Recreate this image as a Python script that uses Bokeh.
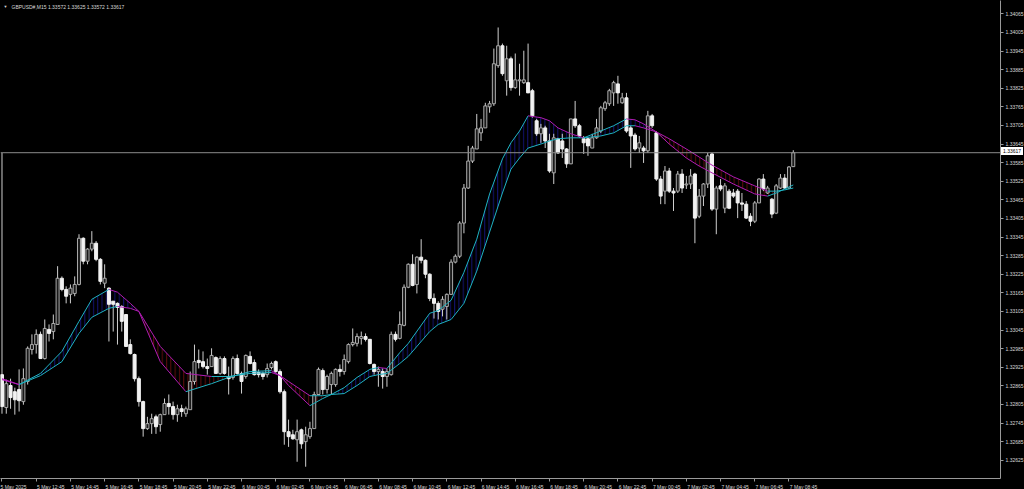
from bokeh.plotting import figure
from bokeh.models import Range1d, FixedTicker, Span, Label, NumeralTickFormatter
from bokeh.embed import file_html
from bokeh.resources import INLINE

symbol_title = "GBPUSD#,M15  1.33572 1.33625 1.33572 1.33617"
bid_price = 1.33617

time_labels = ["5 May 2025", "5 May 12:45", "5 May 14:45", "5 May 16:45", "5 May 18:45",
               "5 May 20:45", "5 May 22:45", "6 May 00:45", "6 May 02:45", "6 May 04:45",
               "6 May 06:45", "6 May 08:45", "6 May 10:45", "6 May 12:45", "6 May 14:45",
               "6 May 16:45", "6 May 18:45", "6 May 20:45", "6 May 22:45", "7 May 00:45",
               "7 May 02:45", "7 May 04:45", "7 May 06:45", "7 May 08:45"]
time_label_bars = [0, 8, 16, 24, 32, 40, 48, 56, 64, 72, 80, 88, 96, 104, 112, 120,
                   128, 136, 144, 152, 160, 168, 176, 184]

y_ticks = [1.34065, 1.34005, 1.33945, 1.33885, 1.33825, 1.33765, 1.33705, 1.33645,
           1.33585, 1.33525, 1.33465, 1.33405, 1.33345, 1.33285, 1.33225, 1.33165,
           1.33105, 1.33045, 1.32985, 1.32925, 1.32865, 1.32805, 1.32745, 1.32685,
           1.32625, 1.32565]

opens = [
    1.32901, 1.32795, 1.32866, 1.32846, 1.32853, 1.32814, 1.32879, 1.32982, 1.32998, 1.33031,
    1.32953, 1.33047, 1.33040, 1.33063, 1.33212, 1.33176, 1.33160, 1.33163, 1.33192, 1.33341,
    1.33267, 1.33306, 1.33325, 1.33273, 1.33196, 1.33180, 1.33138, 1.33131, 1.33121, 1.33095,
    1.32998, 1.32966, 1.32888, 1.32814, 1.32727, 1.32743, 1.32765, 1.32740, 1.32772, 1.32808,
    1.32798, 1.32772, 1.32791, 1.32775, 1.32788, 1.32879, 1.32947, 1.32943, 1.32927, 1.32927,
    1.32956, 1.32905, 1.32953, 1.32895, 1.32892, 1.32953, 1.32905, 1.32895, 1.32960, 1.32940,
    1.32908, 1.32905, 1.32901, 1.32924, 1.32943, 1.32911, 1.32846, 1.32717, 1.32707, 1.32691,
    1.32723, 1.32685, 1.32701, 1.32727, 1.32837, 1.32914, 1.32853, 1.32869, 1.32869, 1.32918,
    1.32911, 1.32943, 1.32998, 1.33002, 1.33018, 1.33024, 1.33015, 1.32934, 1.32911, 1.32911,
    1.32895, 1.32901, 1.33031, 1.33018, 1.33060, 1.33183, 1.33257, 1.33192, 1.33280, 1.33270,
    1.33225, 1.33147, 1.33131, 1.33112, 1.33121, 1.33160, 1.33264, 1.33283, 1.33390, 1.33503,
    1.33590, 1.33629, 1.33681, 1.33697, 1.33765, 1.33775, 1.33898, 1.33962, 1.33849, 1.33920,
    1.33827, 1.33849, 1.33843, 1.33843, 1.33817, 1.33720, 1.33678, 1.33697, 1.33655, 1.33552,
    1.33662, 1.33655, 1.33629, 1.33581, 1.33726, 1.33704, 1.33662, 1.33662, 1.33632, 1.33665,
    1.33687, 1.33759, 1.33775, 1.33810, 1.33839, 1.33778, 1.33794, 1.33697, 1.33674, 1.33632,
    1.33632, 1.33623, 1.33736, 1.33681, 1.33532, 1.33493, 1.33558, 1.33493, 1.33493, 1.33548,
    1.33513, 1.33516, 1.33548, 1.33412, 1.33477, 1.33516, 1.33613, 1.33435, 1.33510, 1.33438,
    1.33493, 1.33487, 1.33493, 1.33455, 1.33451, 1.33412, 1.33396, 1.33455, 1.33532, 1.33487,
    1.33467, 1.33422, 1.33503, 1.33535, 1.33503, 1.33572]

highs = [
    1.33616, 1.32885, 1.32888, 1.32859, 1.32918, 1.32921, 1.32992, 1.33031, 1.33047, 1.33040,
    1.33079, 1.33063, 1.33095, 1.33251, 1.33218, 1.33186, 1.33192, 1.33218, 1.33354, 1.33344,
    1.33309, 1.33364, 1.33332, 1.33277, 1.33257, 1.33183, 1.33138, 1.33134, 1.33125, 1.33095,
    1.33015, 1.32969, 1.32895, 1.32817, 1.32765, 1.32775, 1.32772, 1.32775, 1.32824, 1.32837,
    1.32814, 1.32804, 1.32804, 1.32798, 1.32911, 1.32998, 1.32982, 1.32976, 1.32953, 1.32986,
    1.32960, 1.32960, 1.32960, 1.32927, 1.32960, 1.32966, 1.32911, 1.32966, 1.32976, 1.32950,
    1.32918, 1.32911, 1.32937, 1.32943, 1.32947, 1.32918, 1.32853, 1.32756, 1.32723, 1.32756,
    1.32727, 1.32733, 1.32749, 1.32846, 1.32924, 1.32921, 1.32901, 1.32911, 1.32921, 1.32934,
    1.32966, 1.33002, 1.33050, 1.33034, 1.33040, 1.33034, 1.33015, 1.32937, 1.32927, 1.32921,
    1.32921, 1.33040, 1.33040, 1.33105, 1.33192, 1.33260, 1.33289, 1.33283, 1.33338, 1.33273,
    1.33228, 1.33163, 1.33138, 1.33154, 1.33163, 1.33273, 1.33289, 1.33396, 1.33516, 1.33639,
    1.33639, 1.33742, 1.33726, 1.33778, 1.33784, 1.33953, 1.34021, 1.33969, 1.33962, 1.33927,
    1.33937, 1.33904, 1.33946, 1.33969, 1.33823, 1.33726, 1.33710, 1.33704, 1.33678, 1.33678,
    1.33665, 1.33678, 1.33632, 1.33726, 1.33784, 1.33710, 1.33671, 1.33665, 1.33678, 1.33726,
    1.33768, 1.33784, 1.33823, 1.33849, 1.33865, 1.33810, 1.33810, 1.33704, 1.33681, 1.33671,
    1.33639, 1.33752, 1.33742, 1.33687, 1.33542, 1.33574, 1.33568, 1.33503, 1.33558, 1.33564,
    1.33542, 1.33564, 1.33552, 1.33500, 1.33519, 1.33616, 1.33616, 1.33510, 1.33532, 1.33519,
    1.33500, 1.33500, 1.33500, 1.33487, 1.33461, 1.33422, 1.33461, 1.33535, 1.33548, 1.33510,
    1.33471, 1.33516, 1.33548, 1.33548, 1.33574, 1.33625]

lows = [
    1.32775, 1.32775, 1.32791, 1.32772, 1.32782, 1.32804, 1.32869, 1.32966, 1.32969, 1.32953,
    1.32950, 1.33008, 1.33015, 1.33063, 1.33170, 1.33131, 1.33131, 1.33154, 1.33189, 1.33257,
    1.33257, 1.33299, 1.33267, 1.33192, 1.33180, 1.33008, 1.33040, 1.32998, 1.33040, 1.32992,
    1.32966, 1.32879, 1.32798, 1.32701, 1.32723, 1.32710, 1.32710, 1.32717, 1.32772, 1.32772,
    1.32756, 1.32749, 1.32765, 1.32765, 1.32788, 1.32869, 1.32921, 1.32921, 1.32901, 1.32927,
    1.32905, 1.32901, 1.32901, 1.32837, 1.32885, 1.32901, 1.32840, 1.32888, 1.32934, 1.32898,
    1.32892, 1.32885, 1.32892, 1.32918, 1.32905, 1.32840, 1.32675, 1.32668, 1.32691, 1.32620,
    1.32662, 1.32604, 1.32694, 1.32727, 1.32837, 1.32837, 1.32840, 1.32837, 1.32862, 1.32895,
    1.32901, 1.32937, 1.32992, 1.32992, 1.32998, 1.33008, 1.32934, 1.32901, 1.32862, 1.32856,
    1.32862, 1.32898, 1.33008, 1.33015, 1.33057, 1.33180, 1.33186, 1.33163, 1.33260, 1.33212,
    1.33138, 1.33082, 1.33079, 1.33089, 1.33079, 1.33160, 1.33260, 1.33277, 1.33357, 1.33500,
    1.33584, 1.33629, 1.33655, 1.33697, 1.33746, 1.33768, 1.33891, 1.33865, 1.33801, 1.33817,
    1.33823, 1.33801, 1.33839, 1.33810, 1.33730, 1.33671, 1.33649, 1.33632, 1.33552, 1.33516,
    1.33613, 1.33600, 1.33568, 1.33581, 1.33697, 1.33665, 1.33613, 1.33607, 1.33632, 1.33662,
    1.33681, 1.33752, 1.33768, 1.33768, 1.33775, 1.33775, 1.33681, 1.33568, 1.33623, 1.33616,
    1.33584, 1.33616, 1.33697, 1.33526, 1.33451, 1.33451, 1.33487, 1.33429, 1.33487, 1.33487,
    1.33500, 1.33500, 1.33325, 1.33406, 1.33445, 1.33503, 1.33429, 1.33354, 1.33493, 1.33422,
    1.33435, 1.33471, 1.33406, 1.33429, 1.33403, 1.33380, 1.33390, 1.33455, 1.33493, 1.33484,
    1.33406, 1.33419, 1.33500, 1.33500, 1.33500, 1.33572]

closes = [
    1.32798, 1.32872, 1.32827, 1.32820, 1.32817, 1.32888, 1.32986, 1.32998, 1.33031, 1.32953,
    1.33050, 1.33034, 1.33066, 1.33212, 1.33176, 1.33154, 1.33180, 1.33192, 1.33341, 1.33267,
    1.33306, 1.33325, 1.33273, 1.33202, 1.33212, 1.33128, 1.33128, 1.33118, 1.33073, 1.32992,
    1.32969, 1.32888, 1.32814, 1.32727, 1.32743, 1.32759, 1.32733, 1.32772, 1.32808, 1.32798,
    1.32772, 1.32791, 1.32782, 1.32791, 1.32879, 1.32943, 1.32940, 1.32927, 1.32921, 1.32963,
    1.32905, 1.32953, 1.32905, 1.32888, 1.32953, 1.32905, 1.32879, 1.32963, 1.32937, 1.32901,
    1.32901, 1.32895, 1.32921, 1.32937, 1.32911, 1.32846, 1.32717, 1.32701, 1.32694, 1.32717,
    1.32678, 1.32707, 1.32727, 1.32837, 1.32918, 1.32853, 1.32895, 1.32905, 1.32918, 1.32911,
    1.32950, 1.32998, 1.33005, 1.33024, 1.33024, 1.33015, 1.32937, 1.32911, 1.32918, 1.32895,
    1.32911, 1.33031, 1.33015, 1.33063, 1.33183, 1.33257, 1.33189, 1.33280, 1.33270, 1.33225,
    1.33147, 1.33131, 1.33105, 1.33144, 1.33160, 1.33264, 1.33283, 1.33390, 1.33503, 1.33590,
    1.33632, 1.33694, 1.33697, 1.33768, 1.33775, 1.33904, 1.33962, 1.33872, 1.33920, 1.33827,
    1.33852, 1.33852, 1.33852, 1.33810, 1.33736, 1.33678, 1.33697, 1.33655, 1.33558, 1.33665,
    1.33616, 1.33629, 1.33581, 1.33726, 1.33704, 1.33671, 1.33649, 1.33639, 1.33665, 1.33697,
    1.33762, 1.33778, 1.33817, 1.33843, 1.33810, 1.33794, 1.33687, 1.33671, 1.33629, 1.33649,
    1.33623, 1.33736, 1.33704, 1.33532, 1.33477, 1.33558, 1.33493, 1.33487, 1.33548, 1.33503,
    1.33516, 1.33542, 1.33406, 1.33477, 1.33516, 1.33607, 1.33435, 1.33503, 1.33500, 1.33510,
    1.33438, 1.33477, 1.33455, 1.33451, 1.33406, 1.33396, 1.33455, 1.33532, 1.33500, 1.33503,
    1.33419, 1.33510, 1.33535, 1.33503, 1.33571, 1.33617]

# moving-average ribbon (bar index, fast line, slow line)
ma_bar = [0, 4, 9, 14, 18, 21, 25, 27, 30, 32, 37, 43, 49, 53, 58, 63, 65, 67, 72, 75,
          77, 80, 83, 86, 88, 90, 93, 95, 100, 102, 105, 108, 111, 114, 117, 119, 121, 123, 126, 128,
          130, 133, 136, 140, 143, 146, 148, 150, 153, 156, 160, 163, 166, 171, 176, 179, 181, 183, 185]
ma_fast = [1.32885, 1.32869, 1.32905, 1.32976, 1.33073, 1.33144, 1.33176, 1.33167, 1.33131, 1.33105,
           1.32943, 1.32846, 1.32872, 1.32892, 1.32911, 1.32914, 1.32898, 1.32866, 1.32801, 1.32824,
           1.32837, 1.32859, 1.32892, 1.32918, 1.32924, 1.32921, 1.32972, 1.33002, 1.33099, 1.33108,
           1.33141, 1.33231, 1.33338, 1.33484, 1.33597, 1.33649, 1.33687, 1.33736, 1.33730, 1.33720,
           1.33697, 1.33678, 1.33665, 1.33687, 1.33704, 1.33726, 1.33723, 1.33710, 1.33684, 1.33645,
           1.33600, 1.33574, 1.33552, 1.33516, 1.33484, 1.33477, 1.33487, 1.33500, 1.33513]
ma_slow = [1.32888, 1.32869, 1.32898, 1.32943, 1.33034, 1.33086, 1.33115, 1.33121, 1.33115, 1.33105,
           1.32992, 1.32905, 1.32895, 1.32895, 1.32905, 1.32908, 1.32898, 1.32879, 1.32833, 1.32833,
           1.32837, 1.32840, 1.32866, 1.32895, 1.32901, 1.32905, 1.32937, 1.32960, 1.33040, 1.33063,
           1.33079, 1.33131, 1.33235, 1.33361, 1.33487, 1.33564, 1.33600, 1.33632, 1.33645, 1.33655,
           1.33662, 1.33665, 1.33665, 1.33671, 1.33681, 1.33704, 1.33704, 1.33697, 1.33684, 1.33662,
           1.33629, 1.33603, 1.33577, 1.33539, 1.33510, 1.33493, 1.33493, 1.33497, 1.33503]

FONT = "Liberation Sans"
UP_COL = "#1fb3c2"
DN_COL = "#b01cb4"
AX_COL = "#9a9a9a"
TXT_COL = "#d8d8d8"

p = figure(frame_width=1000, frame_height=478, output_backend="svg", toolbar_location=None,
           x_range=Range1d(-0.35, 233.45), y_range=Range1d(1.32566, 1.34108),
           y_axis_location="right", min_border_left=0, min_border_top=0,
           min_border_right=24, min_border_bottom=11,
           background_fill_color="black", border_fill_color="black",
           outline_line_color=None)
p.xgrid.grid_line_color = None
p.ygrid.grid_line_color = None

# ribbon hatch between the two averages
diff = [f - s for f, s in zip(ma_fast, ma_slow)]
groups = []
for k in range(len(ma_bar) - 1):
    up = (diff[k] + diff[k + 1]) >= 0
    if groups and groups[-1][0] == up:
        groups[-1][1].append(k + 1)
    else:
        groups.append([up, [k, k + 1]])
for up, ks in groups:
    p.varea(x=[ma_bar[k] for k in ks], y1=[ma_fast[k] for k in ks], y2=[ma_slow[k] for k in ks],
            fill_alpha=0, hatch_pattern="vertical_line", hatch_scale=4.3, hatch_weight=1,
            hatch_color="#121270" if up else "#5e0c0c", hatch_alpha=1.0)

# candles
n = len(opens)
bars = list(range(n))
p.segment(x0=bars, y0=lows, x1=bars, y1=highs, line_color="#cfcfcf", line_width=1)
bull = [i for i in bars if closes[i] >= opens[i]]
bear = [i for i in bars if closes[i] < opens[i]]
p.vbar(x=bull, width=0.7, top=[closes[i] for i in bull], bottom=[opens[i] for i in bull],
       fill_color="#1a1a1a", line_color="#ababab", line_width=1)
p.vbar(x=bear, width=0.7, top=[opens[i] for i in bear], bottom=[closes[i] for i in bear],
       fill_color="#f2f2f2", line_color="#f2f2f2", line_width=1)

# average lines coloured by slope
for series in (ma_slow, ma_fast):
    x0, y0, x1, y1, cols = [], [], [], [], []
    for k in range(len(ma_bar) - 1):
        x0.append(ma_bar[k]); y0.append(series[k])
        x1.append(ma_bar[k + 1]); y1.append(series[k + 1])
        cols.append(UP_COL if series[k + 1] >= series[k] else DN_COL)
    p.segment(x0=x0, y0=y0, x1=x1, y1=y1, line_color=cols, line_width=1)

# bid line
p.add_layout(Span(location=bid_price, dimension="width", line_color="#8c8c8c", line_width=1))

# axes
yax = p.yaxis[0]
yax.ticker = FixedTicker(ticks=y_ticks)
yax.formatter = NumeralTickFormatter(format="0.00000")

# time labels start at their tick (MT4 style): pad on the left with no-break spaces
EM = {" ": 0.278, ":": 0.278, "M": 0.833, "a": 0.556, "y": 0.5}
def left_anchored(t):
    w = sum(EM.get(ch, 0.556) for ch in t)
    return "\u00a0" * (int(round(w / 0.278)) + 1) + t

xax = p.xaxis[0]
xax.ticker = FixedTicker(ticks=time_label_bars)
overrides = {}
for j, (b, t) in enumerate(zip(time_label_bars, time_labels)):
    # the first label is pushed inside the canvas by Bokeh itself
    overrides[b] = t if j == 0 else left_anchored(t)
xax.major_label_overrides = overrides
for ax in (xax, yax):
    ax.axis_line_color = AX_COL
    ax.major_tick_line_color = AX_COL
    ax.major_tick_in = 0
    ax.major_tick_out = 3
    ax.minor_tick_line_color = None
    ax.major_label_text_color = TXT_COL
    ax.major_label_text_font = FONT
    ax.major_label_text_font_size = "5px"
    ax.major_label_standoff = 2

# header text
p.add_layout(Label(x=3, y=470, x_units="screen", y_units="screen", text="\u25bc",
                   text_color=TXT_COL, text_font_size="4px", text_font=FONT))
p.add_layout(Label(x=11, y=469, x_units="screen", y_units="screen", text=symbol_title,
                   text_color=TXT_COL, text_font_size="5px", text_font=FONT))

html = file_html(p, INLINE)
price_box = ('<div style="position:absolute;left:1001px;top:147px;background:#ffffff;color:#000000;'
             'font-family:\'Liberation Sans\';font-size:5px;line-height:8px;padding:0 2px;z-index:10;">'
             + "%.5f" % bid_price + '</div>')
html = html.replace("</head>", "<style>html,body{margin:0;padding:0;background:#000000;}</style></head>", 1)
html = html.replace("</body>", price_box + "</body>", 1)
open("out.html", "w").write(html)
